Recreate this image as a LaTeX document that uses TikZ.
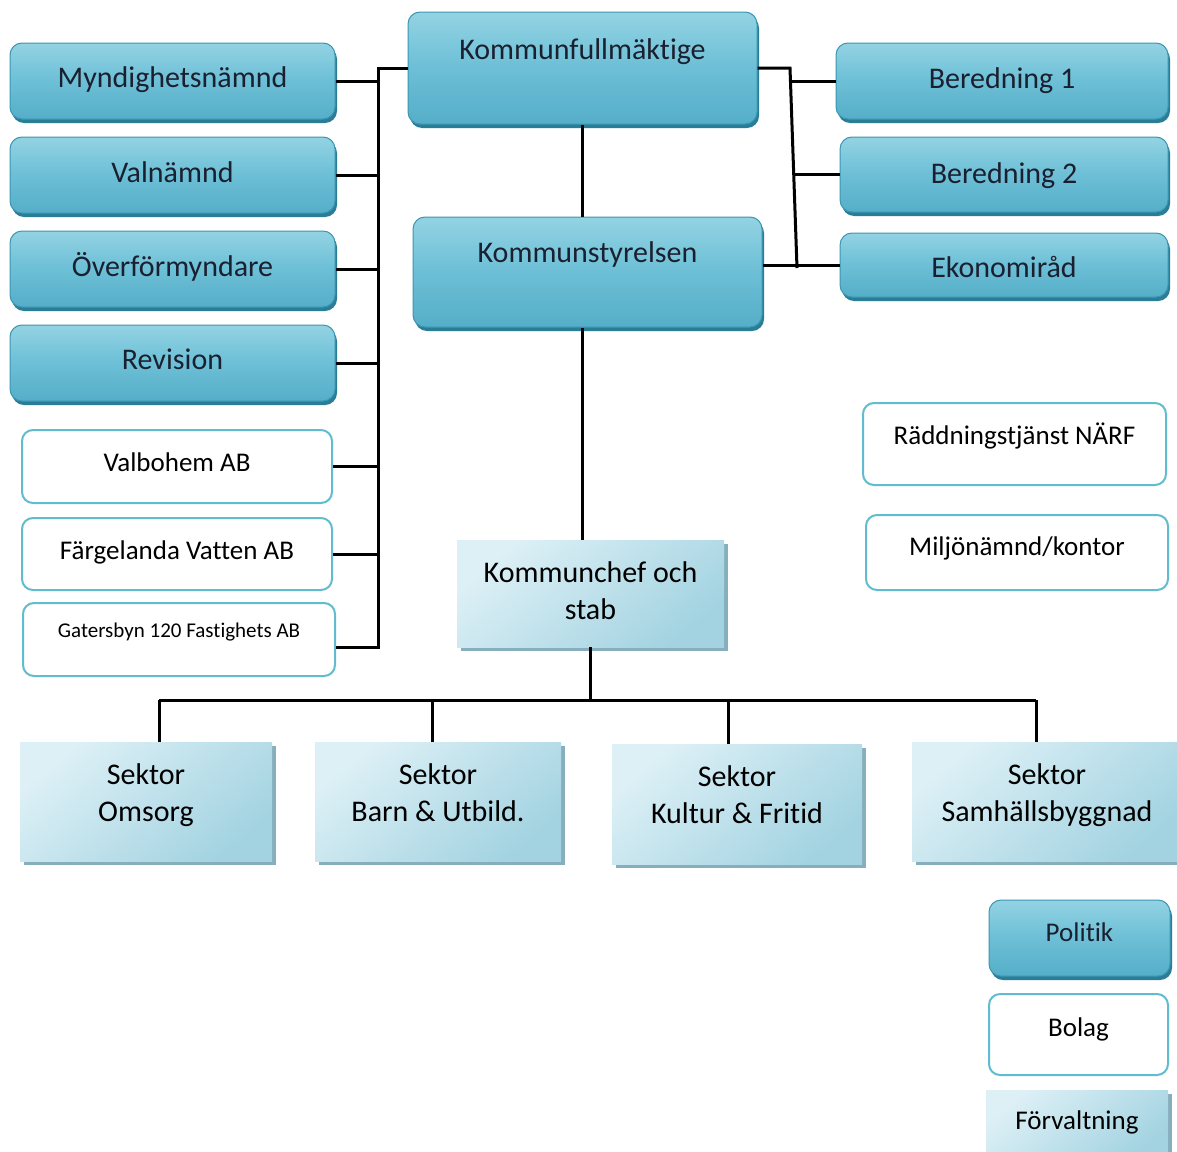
\documentclass[tikz,border=0pt]{standalone}
\usepackage{fontspec}
\setmainfont{Carlito}[Ligatures={NoCommon}]
\usepackage{tikz}
\usetikzlibrary{calc, shadows}
\definecolor{poltop}{HTML}{93D3E3}
\definecolor{polmid}{HTML}{6CBFD6}
\definecolor{polbot}{HTML}{55AEC8}
\definecolor{polline}{HTML}{3A97B2}
\definecolor{polshade}{HTML}{2A7D96}
\definecolor{poltext}{HTML}{1B2030}
\definecolor{bolline}{HTML}{62BCCF}
\definecolor{forvtop}{HTML}{DDF0F6}
\definecolor{forvbot}{HTML}{A3D3E1}
\definecolor{forvshade}{HTML}{86AEBC}
\tikzset{
  pol/.style={draw=polline, line width=1pt, rounded corners=12pt, top color=poltop, bottom color=polbot, middle color=polmid,
    drop shadow={shadow xshift=2pt, shadow yshift=-4pt, fill=polshade, opacity=1},
    font=\fontsize{30}{37}\selectfont, text=poltext, inner sep=0pt, text height=30pt, align=center},
  bol/.style={draw=bolline, line width=2pt, rounded corners=11pt, fill=white,
    font=\fontsize{27}{33}\selectfont, inner sep=0pt, text height=30pt, align=center},
  forv/.style={top color=forvtop, bottom color=forvbot, shading angle=40,
    drop shadow={shadow xshift=4pt, shadow yshift=-4pt, fill=forvshade, opacity=1},
    font=\fontsize{30}{37}\selectfont, inner sep=0pt, text height=30pt, align=center},
  forv2/.style={forv, text height=70pt},
  conn/.style={line width=3pt, black},
}
\begin{document}
\begin{tikzpicture}[x=1pt, y=-1pt]
\useasboundingbox (0,0) rectangle (1177,1151);
\fill[white] (0,0) rectangle (1177,1151);
% politik, vänster
\node[pol, minimum width=325pt, minimum height=76pt, text depth=16.6pt] (myn) at (172.5,81) {Myndighetsnämnd};
\node[pol, minimum width=325pt, minimum height=76pt, text depth=14.6pt] (val) at (172.5,175) {Valnämnd};
\node[pol, minimum width=325pt, minimum height=76pt, text depth=14.6pt] (ovf) at (172.5,269) {Överförmyndare};
\node[pol, minimum width=325pt, minimum height=76pt, text depth=16.6pt] (rev) at (172.5,363) {Revision};
% bolag
\node[bol, minimum width=310pt, minimum height=73pt, text depth=19.6pt] (valb) at (177,466.5) {Valbohem AB};
\node[bol, minimum width=310pt, minimum height=72pt, text depth=18.6pt] (farg) at (177,554) {Färgelanda Vatten AB};
\node[bol, minimum width=312pt, minimum height=73pt, text depth=33.4pt, font=\fontsize{21}{26}\selectfont] (gat) at (179,639.5) {Gatersbyn 120 Fastighets AB};
% mitten
\node[pol, minimum width=349pt, minimum height=112pt, text depth=46.6pt] (kf) at (582.5,68) {Kommunfullmäktige};
\node[pol, minimum width=349pt, minimum height=110pt, text depth=48.6pt] (ks) at (587.5,272) {Kommunstyrelsen};
\node[forv2, minimum width=267pt, minimum height=107pt, text depth=17.6pt] (kc) at (590.5,593.5) {Kommunchef och\\stab};
% politik, höger
\node[pol, minimum width=332pt, minimum height=76pt, text depth=15.6pt] (ber1) at (1002,81) {Beredning 1};
\node[pol, minimum width=328pt, minimum height=75pt, text depth=11.6pt] (ber2) at (1004,174.5) {Beredning 2};
\node[pol, minimum width=328pt, minimum height=64pt, text depth=6pt] (eko) at (1004,265) {Ekonomiråd};
\node[bol, minimum width=303pt, minimum height=82pt, text depth=28.6pt] (radd) at (1014.5,444) {Räddningstjänst NÄRF};
\node[bol, minimum width=302pt, minimum height=75pt, text depth=23.6pt] (milj) at (1017,552.5) {Miljönämnd/kontor};
% sektorer
\node[forv2, minimum width=252pt, minimum height=119pt, text depth=29.6pt] (oms) at (146,801.5) {Sektor\\Omsorg};
\node[forv2, minimum width=246pt, minimum height=119pt, text depth=29.6pt] (barn) at (438,801.5) {Sektor\\Barn \& Utbild.};
\node[forv2, minimum width=250pt, minimum height=120pt, text depth=30.6pt] (kult) at (737,804) {Sektor\\Kultur \& Fritid};
\node[forv2, minimum width=270pt, minimum height=119pt, text depth=29.6pt] (samh) at (1047,801.5) {Sektor\\Samhällsbyggnad};
% teckenförklaring
\node[pol, minimum width=181pt, minimum height=76pt, text depth=22.6pt, font=\fontsize{27}{33}\selectfont] (lpol) at (1079.5,938) {Politik};
\node[bol, minimum width=179pt, minimum height=81pt, text depth=25.6pt] (lbol) at (1078.5,1034.5) {Bolag};
\node[forv, minimum width=182pt, minimum height=70pt, text depth=20.6pt, font=\fontsize{27}{33}\selectfont] (lforv) at (1077,1125) {Förvaltning};
% linjer
\coordinate (lb) at (378,0);
\coordinate (rt) at (790,68);
\coordinate (rb) at (797,268);
\coordinate (bus) at (0,700);
\draw[conn] (kf.west) -- (kf.west -| lb) -- ([yshift=-8pt]gat.east -| lb) -- ([yshift=-8pt]gat.east);
\foreach \n in {myn,val,ovf,rev,valb,farg}
  \draw[conn] (\n.east) -- (\n.east -| lb);
\draw[conn] (kf.east) -- (rt) -- (rb);
\draw[conn] (ber1.west) -- (ber1.west -| {$(rt)!(ber1.west)!(rb)$});
\draw[conn] (ber2.west) -- (ber2.west -| {$(rt)!(ber2.west)!(rb)$});
\draw[conn] (eko.west) -- (eko.west -| ks.east);
\draw[conn] (kf.south) -- (kf.south |- ks.north);
\draw[conn] (ks.south -| kf.south) -- (kc.north -| kf.south);
\draw[conn] (kc.south) -- (kc.south |- bus);
\draw[conn] ([xshift=13pt]oms.north |- bus) -- ([xshift=-11pt]samh.north |- bus);
\foreach \s/\d in {oms/13,barn/-6,kult/-9,samh/-11}
  \draw[conn] ([xshift=\d pt]\s.north) -- ([xshift=\d pt]\s.north |- bus);
\end{tikzpicture}
\end{document}
